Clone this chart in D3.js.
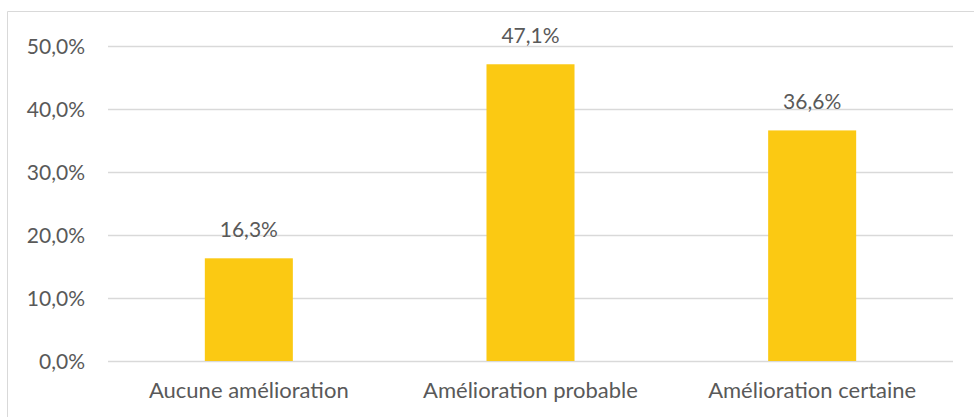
<!DOCTYPE html>
<html>
<head>
<meta charset="utf-8">
<script src="https://cdn.jsdelivr.net/npm/d3@7"></script>
<style>
  body { margin: 0; background: #fff; }
  svg { display: block; }
  text { font-family: Lato, "Open Sans", sans-serif; fill: #595959; }
</style>
</head>
<body>
<div id="chart"></div>
<script>
const categories = ["Aucune amélioration", "Amélioration probable", "Amélioration certaine"];
const values = [16.3, 47.1, 36.6];
const yTicks = [0, 10, 20, 30, 40, 50];

const width = 974;
const height = 417;
const margin = { top: 46, right: 21, bottom: 56, left: 108 };

const svg = d3.select("#chart").append("svg")
  .attr("width", width)
  .attr("height", height);

// chart area border (only left and top visible in the crop)
svg.append("path")
  .attr("d", `M7.5,${height} V11.5 H${width}`)
  .attr("fill", "none")
  .attr("stroke", "#d9d9d9")
  .attr("stroke-width", 1);

const x = d3.scaleBand()
  .domain(categories)
  .range([margin.left, width - margin.right])
  .paddingInner(0.6875)
  .paddingOuter(0.34375);

const y = d3.scaleLinear()
  .domain([0, 50])
  .range([height - margin.bottom, margin.top]);

const fmt = v => v.toFixed(1).replace(".", ",") + "%";

// gridlines
svg.append("g")
  .selectAll("line")
  .data(yTicks)
  .enter()
  .append("line")
  .attr("x1", margin.left)
  .attr("x2", width - margin.right)
  .attr("y1", d => Math.round(y(d)) + 0.5)
  .attr("y2", d => Math.round(y(d)) + 0.5)
  .attr("stroke", "#d9d9d9")
  .attr("stroke-width", 1.3);

// y tick labels
svg.append("g")
  .selectAll("text")
  .data(yTicks)
  .enter()
  .append("text")
  .attr("x", 85)
  .attr("y", d => y(d) + 8)
  .attr("text-anchor", "end")
  .attr("font-size", "21px")
  .text(d => fmt(d));

// bars
svg.append("g")
  .selectAll("rect")
  .data(values)
  .enter()
  .append("rect")
  .attr("x", (d, i) => x(categories[i]))
  .attr("y", d => y(d))
  .attr("width", x.bandwidth())
  .attr("height", d => y(0) - y(d))
  .attr("fill", "#fbc913");

// value labels
svg.append("g")
  .selectAll("text")
  .data(values)
  .enter()
  .append("text")
  .attr("x", (d, i) => x(categories[i]) + x.bandwidth() / 2)
  .attr("y", d => y(d) - 21)
  .attr("text-anchor", "middle")
  .attr("font-size", "21px")
  .text(d => fmt(d));

// category labels
svg.append("g")
  .selectAll("text")
  .data(categories)
  .enter()
  .append("text")
  .attr("x", d => x(d) + x.bandwidth() / 2)
  .attr("y", 398)
  .attr("text-anchor", "middle")
  .attr("font-size", "22px")
  .text(d => d);
</script>
</body>
</html>
